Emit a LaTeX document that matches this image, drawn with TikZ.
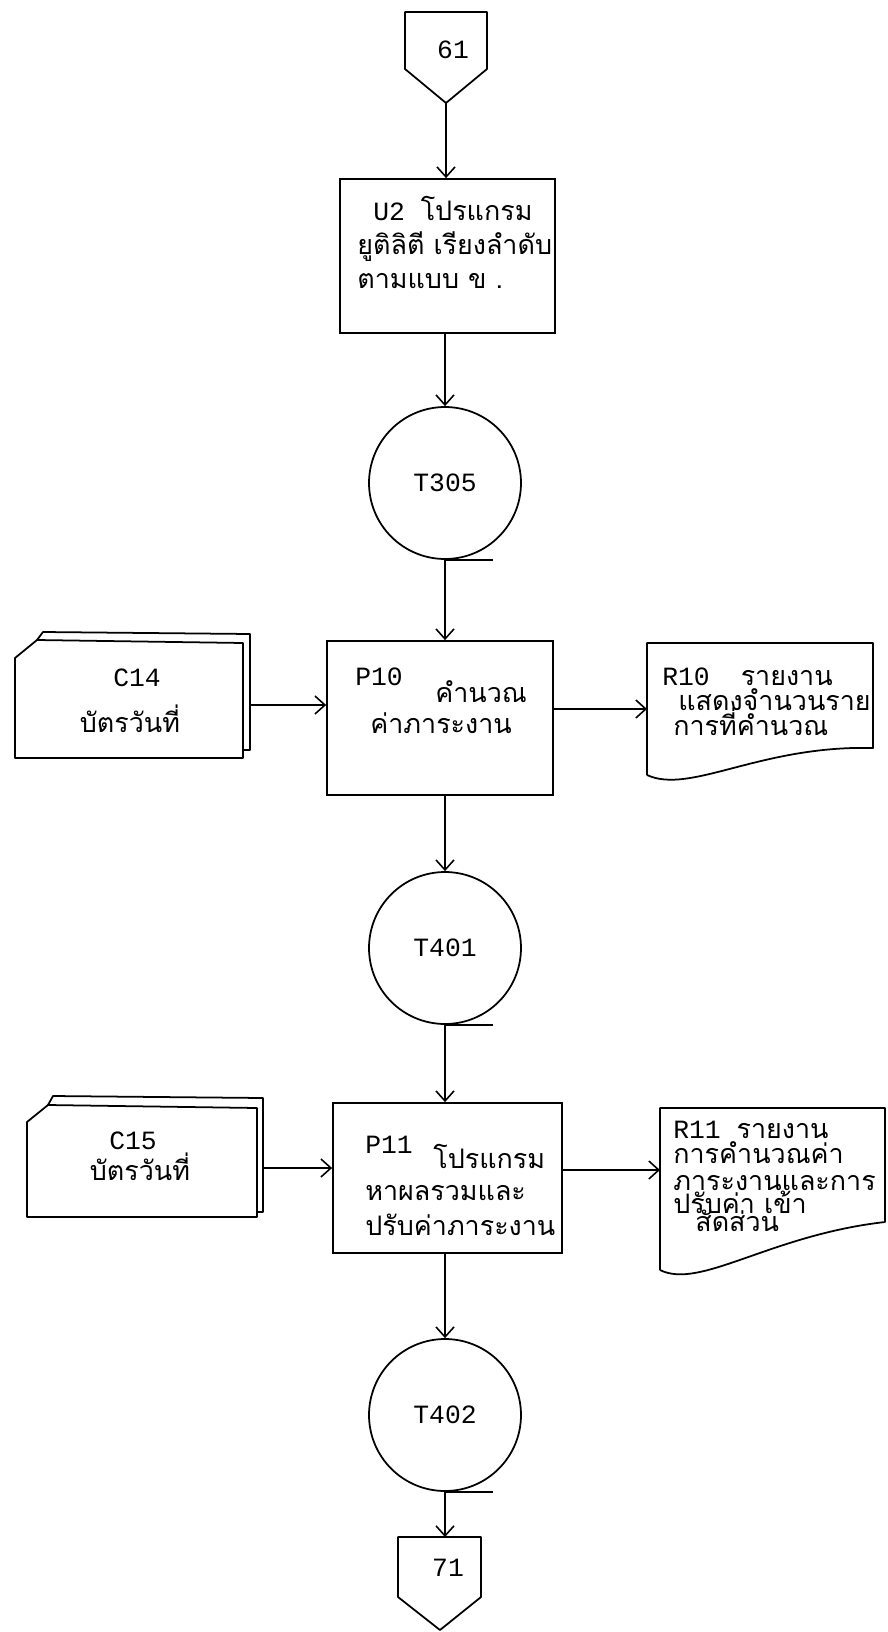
\documentclass[tikz,border=0pt]{standalone}
\usepackage{fontspec}
\setmainfont{Liberation Mono}
\newfontfamily\thaifont[Script=Thai]{Loma}
\usetikzlibrary{positioning,arrows.meta}
\newcommand{\thai}[1]{{\thaifont\fontsize{15.3}{18}\selectfont #1}}

\begin{document}
\begin{tikzpicture}[x=0.02cm,y=-0.02cm,
 font=\fontsize{15}{18}\selectfont,
 procbox/.style={draw,line width=1pt,inner sep=0pt},
 tape/.style={circle,draw,line width=1pt,minimum size=3.04cm,inner sep=0pt},
 symb/.style={draw,line width=1pt,line join=round},
 flow/.style={line width=0.9pt,-{Straight Barb[length=2mm,width=3.6mm]}},
 txt/.style={anchor=base west,inner sep=0pt},
 ctxt/.style={anchor=base,inner sep=0pt}]

\useasboundingbox (0,0) rectangle (887,1632);

% Connector 61 at the top.
\draw[symb] (405,12) -- (487,12) -- (487,69) -- (446,103) -- (405,69) -- cycle;
\coordinate (c61) at (446,103);
\node[ctxt] (n61) at (453,59) {61};

% U2 utility sort.
\node[procbox,minimum width=4.3cm,minimum height=3.08cm] (u2) at (447.5,256) {};
\node[txt] (u2a) at (373,220) {U2 \thai{โปรแกรม}};
\node[txt] (u2b) at (357,255) {\thai{ยูติลิตี เรียงลำดับ}};
\node[txt] (u2c) at (357,288) {\thai{ตามแบบ ข .}};

% Tape files, each with its tail.
\foreach \n/\y in {305/483,401/948,402/1415} {
 \node[tape] (t\n) at (445,\y) {T\n};
 \draw[symb] (t\n.south) -- ++(48,0);
}

% P10 and its card input and report.
\node[procbox,minimum width=4.52cm,minimum height=3.08cm] (p10) at (440,718) {};
\node[txt] (p10a) at (355,685) {P10};
\node[txt] (p10b) at (435,702) {\thai{คำนวณ}};
\node[txt] (p10c) at (370,733) {\thai{ค่าภาระงาน}};

\draw[symb] (15,758) -- (15,658) -- (37,640) -- (243,643) -- (243,758) -- cycle;
\draw[symb] (37,640) -- (43,632) -- (250,634) -- (250,750) -- (243,750);
\coordinate (c14) at (250,705);
\node[ctxt] (c14a) at (137,686) {C14};
\node[ctxt] (c14b) at (130,732) {\thai{บัตรวันที่}};

\draw[symb] (647,775) -- (647,643) -- (873,643) -- (873,748) .. controls (760,745) and (690,795) .. (647,775);
\coordinate (r10) at (647,709);
\node[txt] (r10a) at (662,685) {R10\hspace{0.62cm}\thai{รายงาน}};
\node[txt] (r10b) at (678,710) {\thai{แสดงจำนวนราย}};
\node[txt] (r10c) at (673,735) {\thai{การที่คำนวณ}};

% P11 and its card input and report.
\node[procbox,minimum width=4.58cm,minimum height=3.0cm] (p11) at (447.5,1178) {};
\node[txt] (p11a) at (365,1153) {P11};
\node[txt] (p11b) at (433,1168) {\thai{โปรแกรม}};
\node[txt] (p11c) at (365,1200) {\thai{หาผลรวมและ}};
\node[txt] (p11d) at (365,1235) {\thai{ปรับค่าภาระงาน}};

\draw[symb] (27,1217) -- (27,1122) -- (48,1105) -- (257,1108) -- (257,1217) -- cycle;
\draw[symb] (48,1105) -- (53,1096) -- (263,1098) -- (263,1212) -- (257,1212);
\coordinate (c15) at (263,1168);
\node[ctxt] (c15a) at (133,1149) {C15};
\node[ctxt] (c15b) at (140,1180) {\thai{บัตรวันที่}};

\draw[symb] (660,1270) -- (660,1108) -- (885,1108) -- (885,1222) .. controls (770,1235) and (700,1290) .. (660,1270);
\coordinate (r11) at (660,1170);
\node[txt] (r11a) at (673,1138) {R11 \thai{รายงาน}};
\node[txt] (r11b) at (673,1163) {\thai{การคำนวณค่า}};
\node[txt] (r11c) at (673,1190) {\thai{ภาระงานและการ}};
\node[txt] (r11d) at (673,1213) {\thai{ปรับค่า เข้า}};
\node[txt] (r11e) at (695,1231) {\thai{สัดส่วน}};

% Connector 71 at the bottom.
\draw[symb] (398,1537) -- (481,1537) -- (481,1597) -- (440,1630) -- (398,1597) -- cycle;
\coordinate (c71) at (440,1537);
\node[ctxt] (n71) at (448,1576) {71};

% Flow lines.
\draw[flow] (c61) -- (c61 |- u2.north);
\draw[flow] (t305.north |- u2.south) -- (t305.north);
\draw[flow] (t305.south) -- (t305.south |- p10.north);
\draw[flow] (t401.north |- p10.south) -- (t401.north);
\draw[flow] (t401.south) -- (t401.south |- p11.north);
\draw[flow] (t402.north |- p11.south) -- (t402.north);
\draw[flow] (t402.south) -- (t402.south |- c71);
\draw[flow] (c14) -- (c14 -| p10.west);
\draw[flow] (r10 -| p10.east) -- (r10);
\draw[flow] (c15) -- (c15 -| p11.west);
\draw[flow] (r11 -| p11.east) -- (r11);
\end{tikzpicture}
\end{document}
